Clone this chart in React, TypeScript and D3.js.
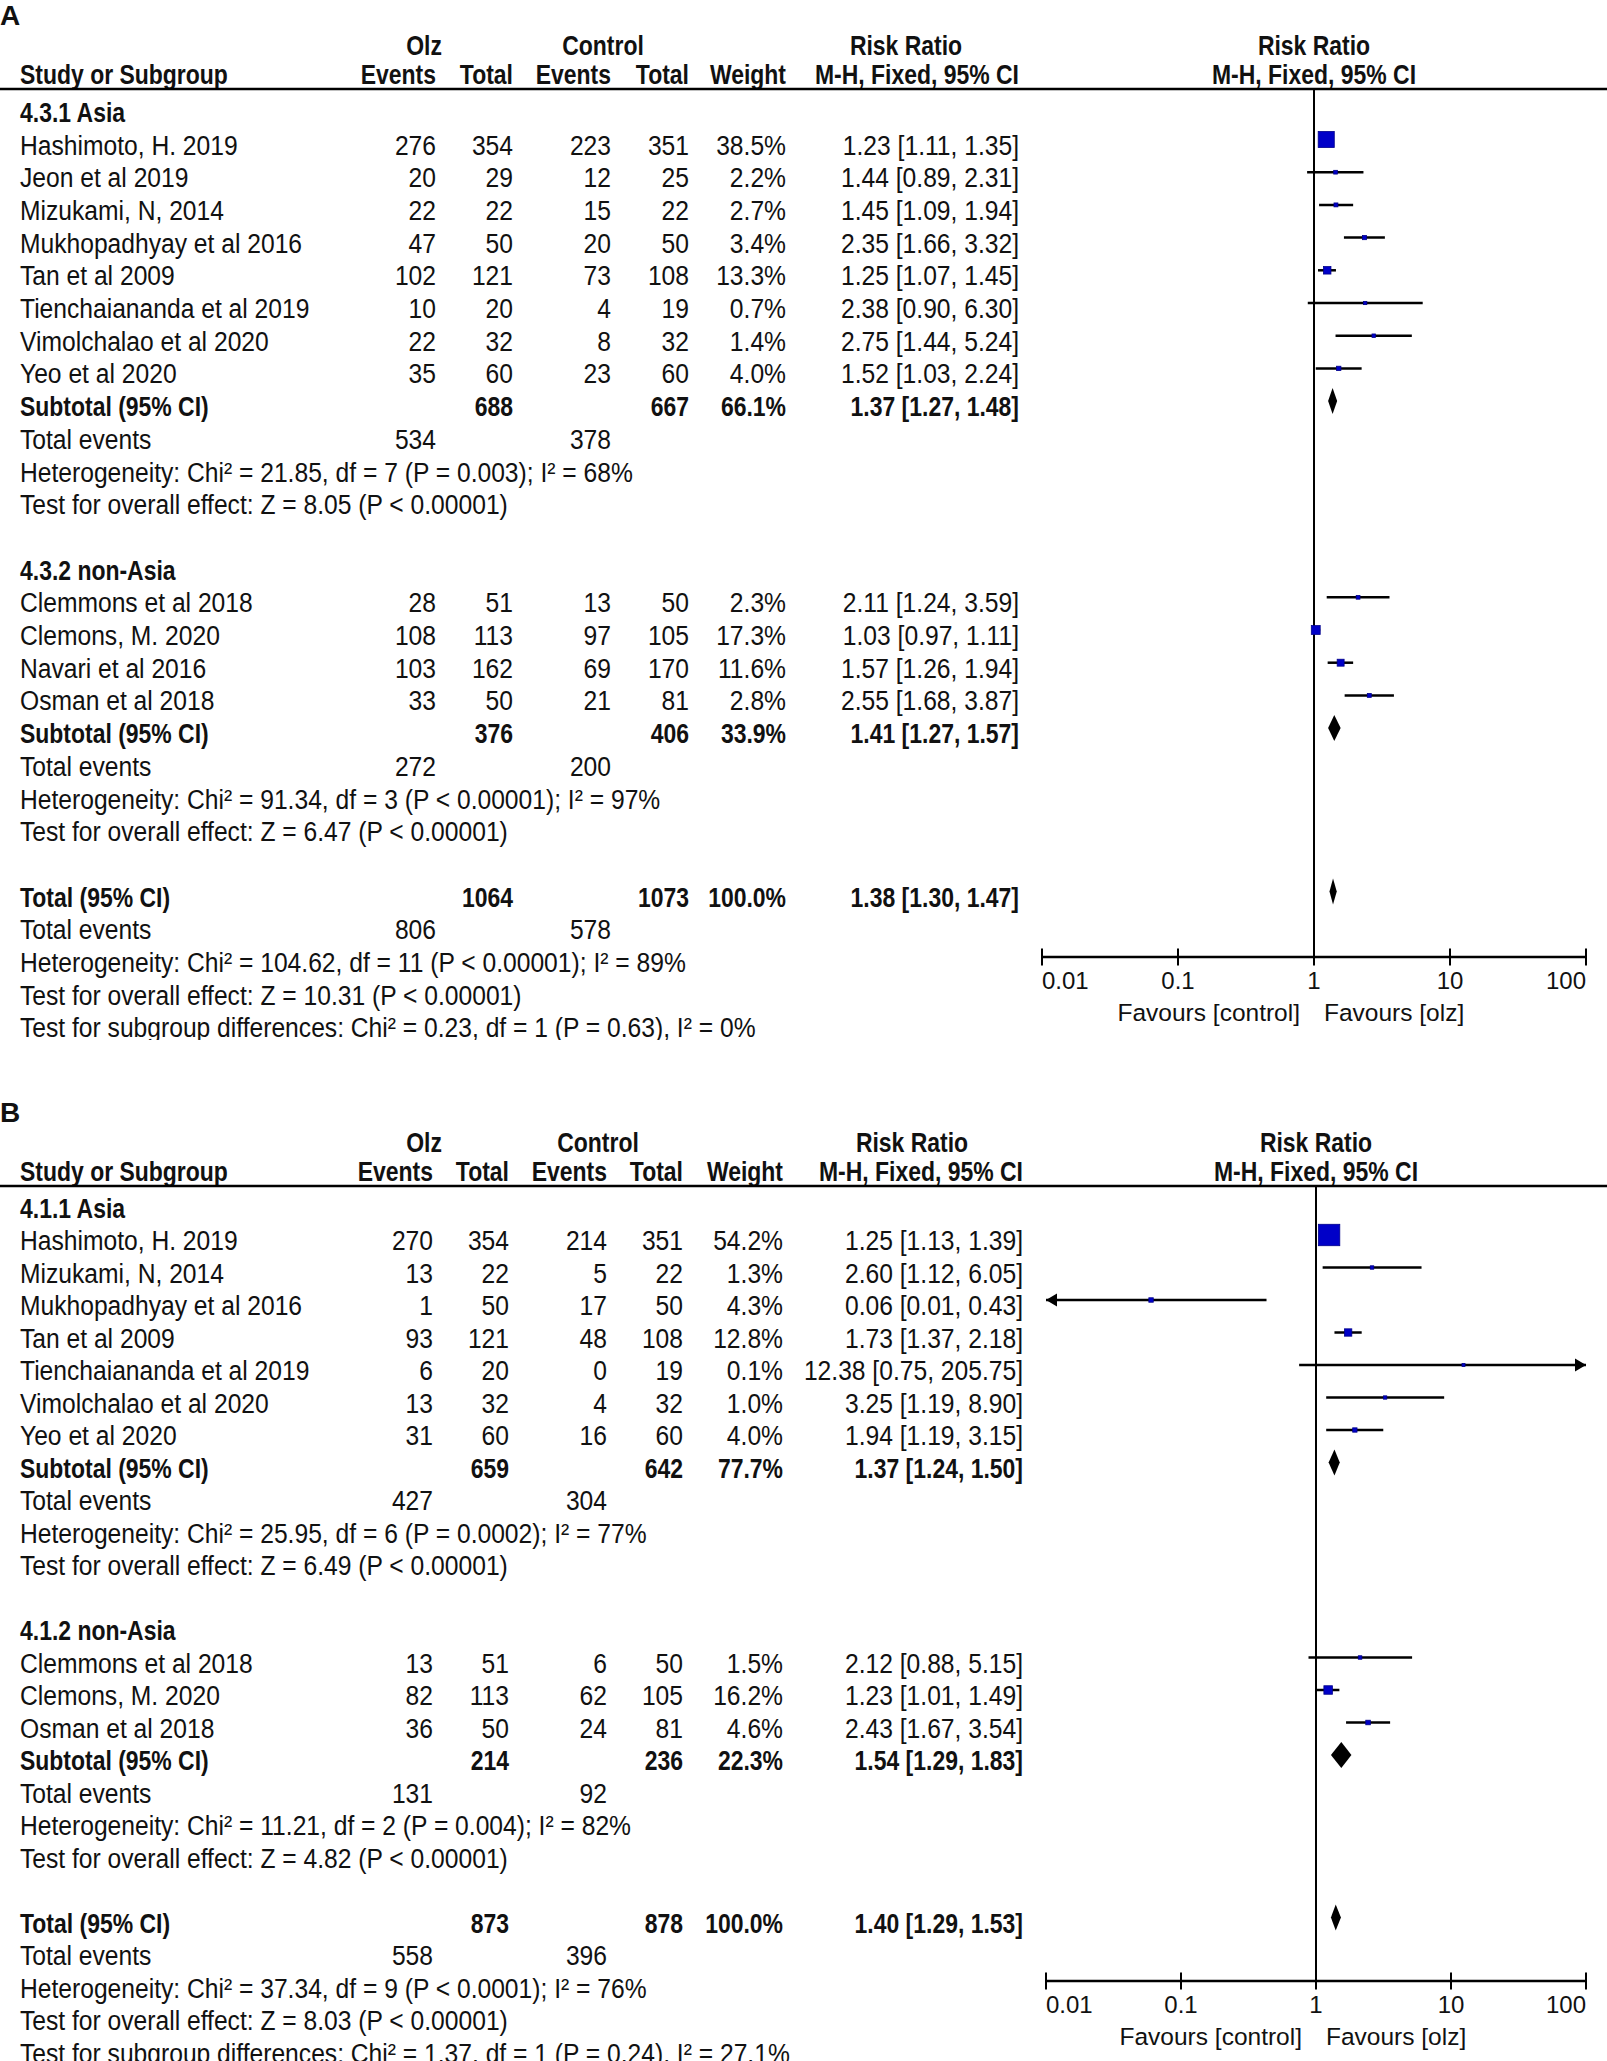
import React from 'react';
import * as d3 from 'd3';

type Study = { name: string; e1: number; n1: number; e2: number; n2: number; w: number; rr: number; lo: number; hi: number };
type Sub = { n1: number; n2: number; e1: number; e2: number; w: number; rr: number; lo: number; hi: number };

// ---- Panel A (4.3.x) ----
const groupNamesA = ['4.3.1 Asia', '4.3.2 non-Asia'];
const asiaA: Study[] = [
  { name: 'Hashimoto, H. 2019', e1: 276, n1: 354, e2: 223, n2: 351, w: 38.5, rr: 1.23, lo: 1.11, hi: 1.35 },
  { name: 'Jeon et al 2019', e1: 20, n1: 29, e2: 12, n2: 25, w: 2.2, rr: 1.44, lo: 0.89, hi: 2.31 },
  { name: 'Mizukami, N, 2014', e1: 22, n1: 22, e2: 15, n2: 22, w: 2.7, rr: 1.45, lo: 1.09, hi: 1.94 },
  { name: 'Mukhopadhyay et al 2016', e1: 47, n1: 50, e2: 20, n2: 50, w: 3.4, rr: 2.35, lo: 1.66, hi: 3.32 },
  { name: 'Tan et al 2009', e1: 102, n1: 121, e2: 73, n2: 108, w: 13.3, rr: 1.25, lo: 1.07, hi: 1.45 },
  { name: 'Tienchaiananda et al 2019', e1: 10, n1: 20, e2: 4, n2: 19, w: 0.7, rr: 2.38, lo: 0.9, hi: 6.3 },
  { name: 'Vimolchalao et al 2020', e1: 22, n1: 32, e2: 8, n2: 32, w: 1.4, rr: 2.75, lo: 1.44, hi: 5.24 },
  { name: 'Yeo et al 2020', e1: 35, n1: 60, e2: 23, n2: 60, w: 4.0, rr: 1.52, lo: 1.03, hi: 2.24 },
];
const nonAsiaA: Study[] = [
  { name: 'Clemmons et al 2018', e1: 28, n1: 51, e2: 13, n2: 50, w: 2.3, rr: 2.11, lo: 1.24, hi: 3.59 },
  { name: 'Clemons, M. 2020', e1: 108, n1: 113, e2: 97, n2: 105, w: 17.3, rr: 1.03, lo: 0.97, hi: 1.11 },
  { name: 'Navari et al 2016', e1: 103, n1: 162, e2: 69, n2: 170, w: 11.6, rr: 1.57, lo: 1.26, hi: 1.94 },
  { name: 'Osman et al 2018', e1: 33, n1: 50, e2: 21, n2: 81, w: 2.8, rr: 2.55, lo: 1.68, hi: 3.87 },
];
const subtotalsA: Sub[] = [
  { n1: 688, n2: 667, e1: 534, e2: 378, w: 66.1, rr: 1.37, lo: 1.27, hi: 1.48 },
  { n1: 376, n2: 406, e1: 272, e2: 200, w: 33.9, rr: 1.41, lo: 1.27, hi: 1.57 },
];
const overallA: Sub = { n1: 1064, n2: 1073, e1: 806, e2: 578, w: 100.0, rr: 1.38, lo: 1.3, hi: 1.47 };
const statsA = [
  ['Heterogeneity: Chi² = 21.85, df = 7 (P = 0.003); I² = 68%', 'Test for overall effect: Z = 8.05 (P < 0.00001)'],
  ['Heterogeneity: Chi² = 91.34, df = 3 (P < 0.00001); I² = 97%', 'Test for overall effect: Z = 6.47 (P < 0.00001)'],
  [
    'Heterogeneity: Chi² = 104.62, df = 11 (P < 0.00001); I² = 89%',
    'Test for overall effect: Z = 10.31 (P < 0.00001)',
    'Test for subgroup differences: Chi² = 0.23, df = 1 (P = 0.63), I² = 0%',
  ],
];

// ---- Panel B (4.1.x) ----
const groupNamesB = ['4.1.1 Asia', '4.1.2 non-Asia'];
const asiaB: Study[] = [
  { name: 'Hashimoto, H. 2019', e1: 270, n1: 354, e2: 214, n2: 351, w: 54.2, rr: 1.25, lo: 1.13, hi: 1.39 },
  { name: 'Mizukami, N, 2014', e1: 13, n1: 22, e2: 5, n2: 22, w: 1.3, rr: 2.6, lo: 1.12, hi: 6.05 },
  { name: 'Mukhopadhyay et al 2016', e1: 1, n1: 50, e2: 17, n2: 50, w: 4.3, rr: 0.06, lo: 0.01, hi: 0.43 },
  { name: 'Tan et al 2009', e1: 93, n1: 121, e2: 48, n2: 108, w: 12.8, rr: 1.73, lo: 1.37, hi: 2.18 },
  { name: 'Tienchaiananda et al 2019', e1: 6, n1: 20, e2: 0, n2: 19, w: 0.1, rr: 12.38, lo: 0.75, hi: 205.75 },
  { name: 'Vimolchalao et al 2020', e1: 13, n1: 32, e2: 4, n2: 32, w: 1.0, rr: 3.25, lo: 1.19, hi: 8.9 },
  { name: 'Yeo et al 2020', e1: 31, n1: 60, e2: 16, n2: 60, w: 4.0, rr: 1.94, lo: 1.19, hi: 3.15 },
];
const nonAsiaB: Study[] = [
  { name: 'Clemmons et al 2018', e1: 13, n1: 51, e2: 6, n2: 50, w: 1.5, rr: 2.12, lo: 0.88, hi: 5.15 },
  { name: 'Clemons, M. 2020', e1: 82, n1: 113, e2: 62, n2: 105, w: 16.2, rr: 1.23, lo: 1.01, hi: 1.49 },
  { name: 'Osman et al 2018', e1: 36, n1: 50, e2: 24, n2: 81, w: 4.6, rr: 2.43, lo: 1.67, hi: 3.54 },
];
const subtotalsB: Sub[] = [
  { n1: 659, n2: 642, e1: 427, e2: 304, w: 77.7, rr: 1.37, lo: 1.24, hi: 1.5 },
  { n1: 214, n2: 236, e1: 131, e2: 92, w: 22.3, rr: 1.54, lo: 1.29, hi: 1.83 },
];
const overallB: Sub = { n1: 873, n2: 878, e1: 558, e2: 396, w: 100.0, rr: 1.4, lo: 1.29, hi: 1.53 };
const statsB = [
  ['Heterogeneity: Chi² = 25.95, df = 6 (P = 0.0002); I² = 77%', 'Test for overall effect: Z = 6.49 (P < 0.00001)'],
  ['Heterogeneity: Chi² = 11.21, df = 2 (P = 0.004); I² = 82%', 'Test for overall effect: Z = 4.82 (P < 0.00001)'],
  [
    'Heterogeneity: Chi² = 37.34, df = 9 (P < 0.0001); I² = 76%',
    'Test for overall effect: Z = 8.03 (P < 0.00001)',
    'Test for subgroup differences: Chi² = 1.37, df = 1 (P = 0.24), I² = 27.1%',
  ],
];

const axisTicks = [0.01, 0.1, 1, 10, 100];

const FONT = "'Liberation Sans', Arial, Helvetica, sans-serif";
const INK = '#111';

const Txt = ({ x, y, s, a = 'start', b = false, size = 28, sx }: any) => (
  <text
    transform={`translate(${x},${y}) scale(${sx ?? (b ? 0.82 : 0.88)},1)`}
    textAnchor={a}
    fontWeight={b ? 'bold' : 'normal'}
    fontSize={size}
    fontFamily={FONT}
    fill={INK}
  >
    {s}
  </text>
);

const ci = (d: { rr: number; lo: number; hi: number }) =>
  `${d.rr.toFixed(2)} [${d.lo.toFixed(2)}, ${d.hi.toFixed(2)}]`;
const pct = (w: number) => `${w.toFixed(1)}%`;

function Panel({ L, names, groups, subs, overall, stats }: any) {
  const x = d3.scaleLog().domain([0.01, 100]).range([L.x0, L.x1]);
  const sz = d3.scaleLinear().domain([0, 100]).range([3, 37]);
  const C = L.cols;
  const center = (i: number) => L.row0 + L.pitch * i;
  const base = (i: number) => center(i) + 10;
  const markY = (i: number) => center(i) - 5;
  const out: React.ReactNode[] = [];
  let i = -1;

  const diamond = (d: Sub, yy: number, key: string) => (
    <path
      key={key}
      d={`M${x(d.lo)},${yy} L${x(d.rr)},${yy - 13} L${x(d.hi)},${yy} L${x(d.rr)},${yy + 13} Z`}
      fill="#000"
    />
  );

  const summaryRow = (label: string, d: Sub, k: string) => {
    out.push(
      <g key={k}>
        <Txt x={20} y={base(i)} s={label} b />
        <Txt x={C.n1} y={base(i)} s={d.n1} a="end" b />
        <Txt x={C.n2} y={base(i)} s={d.n2} a="end" b />
        <Txt x={C.w} y={base(i)} s={pct(d.w)} a="end" b />
        <Txt x={C.rr} y={base(i)} s={ci(d)} a="end" b />
        {diamond(d, markY(i), 'dm')}
      </g>
    );
    i++;
    out.push(
      <g key={k + 'ev'}>
        <Txt x={20} y={base(i)} s="Total events" />
        <Txt x={C.e1} y={base(i)} s={d.e1} a="end" />
        <Txt x={C.e2} y={base(i)} s={d.e2} a="end" />
      </g>
    );
    i++;
  };

  groups.forEach((g: Study[], gi: number) => {
    out.push(<Txt key={`h${gi}`} x={20} y={base(i)} s={names[gi]} b />);
    i++;
    g.forEach((s, si) => {
      const yy = markY(i);
      const lo = Math.max(s.lo, 0.01);
      const hi = Math.min(s.hi, 100);
      const side = sz(s.w);
      out.push(
        <g key={`s${gi}-${si}`}>
          <Txt x={20} y={base(i)} s={s.name} />
          <Txt x={C.e1} y={base(i)} s={s.e1} a="end" />
          <Txt x={C.n1} y={base(i)} s={s.n1} a="end" />
          <Txt x={C.e2} y={base(i)} s={s.e2} a="end" />
          <Txt x={C.n2} y={base(i)} s={s.n2} a="end" />
          <Txt x={C.w} y={base(i)} s={pct(s.w)} a="end" />
          <Txt x={C.rr} y={base(i)} s={ci(s)} a="end" />
          <line x1={x(lo)} x2={x(hi)} y1={yy} y2={yy} stroke="#000" strokeWidth={2.5} />
          {s.lo <= 0.01 && <path d={`M${x(0.01)},${yy} l11,-6.5 v13 z`} fill="#000" />}
          {s.hi >= 100 && <path d={`M${x(100)},${yy} l-11,-6.5 v13 z`} fill="#000" />}
          <rect
            x={x(s.rr) - side / 2}
            y={yy - side / 2}
            width={side}
            height={side}
            fill="#0000c8"
            stroke="#00008b"
            strokeWidth={0.8}
          />
        </g>
      );
      i++;
    });
    summaryRow('Subtotal (95% CI)', subs[gi], `sub${gi}`);
    stats[gi].forEach((t: string, ti: number) => {
      out.push(<Txt key={`t${gi}-${ti}`} x={20} y={base(i)} s={t} />);
      i++;
    });
    i++;
  });
  summaryRow('Total (95% CI)', overall, 'tot');
  stats[2].forEach((t: string, ti: number) => {
    out.push(<Txt key={`tt${ti}`} x={20} y={base(i)} s={t} />);
    i++;
  });

  const x1v = x(1);
  return (
    <g clipPath={`url(#clip${L.label})`}>
      <clipPath id={`clip${L.label}`}>
        <rect x={0} y={L.labelY - 30} width={1607} height={L.clip - L.labelY + 30} />
      </clipPath>
      <Txt x={0} y={L.labelY} s={L.label} b sx={1} />
      {/* headers */}
      <Txt x={C.olz} y={L.h1} s="Olz" a="middle" b />
      <Txt x={C.ctl} y={L.h1} s="Control" a="middle" b />
      <Txt x={C.rrHead} y={L.h1} s="Risk Ratio" a="middle" b />
      <Txt x={x1v} y={L.h1} s="Risk Ratio" a="middle" b />
      <Txt x={20} y={L.h2} s="Study or Subgroup" b />
      <Txt x={C.e1} y={L.h2} s="Events" a="end" b />
      <Txt x={C.n1} y={L.h2} s="Total" a="end" b />
      <Txt x={C.e2} y={L.h2} s="Events" a="end" b />
      <Txt x={C.n2} y={L.h2} s="Total" a="end" b />
      <Txt x={C.w} y={L.h2} s="Weight" a="end" b />
      <Txt x={C.rr} y={L.h2} s="M-H, Fixed, 95% CI" a="end" b />
      <Txt x={x1v} y={L.h2} s="M-H, Fixed, 95% CI" a="middle" b />
      <line x1={0} x2={1607} y1={L.lineY} y2={L.lineY} stroke="#000" strokeWidth={2.5} />
      {/* null line */}
      <line x1={x1v} x2={x1v} y1={L.lineY} y2={L.axisY} stroke="#000" strokeWidth={2} />
      {out}
      {/* axis */}
      <line x1={L.x0} x2={L.x1} y1={L.axisY} y2={L.axisY} stroke="#000" strokeWidth={2.5} />
      {axisTicks.map((t, ti) => (
        <g key={`tk${t}`}>
          <line x1={x(t)} x2={x(t)} y1={L.axisY - 8.5} y2={L.axisY + 8.5} stroke="#000" strokeWidth={2} />
          <Txt
            x={x(t)}
            y={L.axisY + 32}
            s={String(t)}
            a={ti === 0 ? 'start' : ti === axisTicks.length - 1 ? 'end' : 'middle'}
            size={24}
            sx={1}
          />
        </g>
      ))}
      <Txt x={x1v - 14} y={L.axisY + 64} s="Favours [control]" a="end" size={24.5} sx={1} />
      <Txt x={x1v + 10} y={L.axisY + 64} s="Favours [olz]" size={24.5} sx={1} />
    </g>
  );
}

const layoutA = {
  label: 'A', labelY: 25, h1: 55, h2: 84, lineY: 89, row0: 144.5, pitch: 32.7, axisY: 957,
  x0: 1042, x1: 1586, clip: 1040,
  cols: { e1: 436, n1: 513, e2: 611, n2: 689, w: 786, rr: 1019, rrHead: 906, olz: 424, ctl: 603 },
};
const layoutB = {
  label: 'B', labelY: 1122, h1: 1152, h2: 1181, lineY: 1186, row0: 1240, pitch: 32.5, axisY: 1981,
  x0: 1046, x1: 1586, clip: 2061,
  cols: { e1: 433, n1: 509, e2: 607, n2: 683, w: 783, rr: 1023, rrHead: 912, olz: 424, ctl: 598 },
};

export default function App() {
  return (
    <svg
      width={1607}
      height={2061}
      style={{ position: 'absolute', left: 0, top: 0, background: '#fff' }}
    >
      <rect width={1607} height={2061} fill="#fff" />
      <Panel L={layoutA} names={groupNamesA} groups={[asiaA, nonAsiaA]} subs={subtotalsA} overall={overallA} stats={statsA} />
      <Panel L={layoutB} names={groupNamesB} groups={[asiaB, nonAsiaB]} subs={subtotalsB} overall={overallB} stats={statsB} />
    </svg>
  );
}
